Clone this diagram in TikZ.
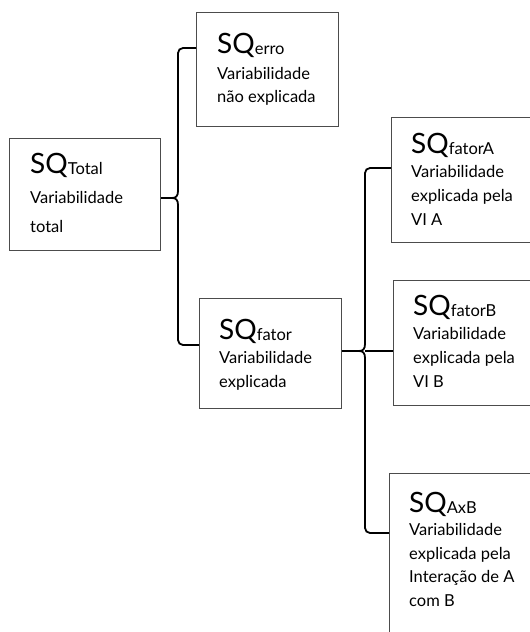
\documentclass[tikz,border=0pt]{standalone}
\usepackage{fontspec}
\setmainfont{Lato}
\newcommand\sqterm[1]{{\fontsize{28}{28}\selectfont SQ}\raisebox{-1.5pt}{#1}}
\begin{document}
\begin{tikzpicture}[x=1pt,y=-1pt,
  box/.style={draw=black!70,line width=1.1pt,rectangle,inner sep=0pt,anchor=north west},
  lbl/.style={anchor=base west,inner sep=0pt,font=\fontsize{16.5}{24}\selectfont},
  brace/.style={draw=black,line width=1.8pt}]
\useasboundingbox (0,0) rectangle (530,632);
\clip (0,0) rectangle (530,632);

% boxes
\node[box,minimum width=151pt,minimum height=112pt] (total) at (9,138) {};
\node[box,minimum width=142pt,minimum height=114pt] (erro) at (196,12) {};
\node[box,minimum width=142pt,minimum height=110pt] (fator) at (199,298) {};
\node[box,minimum width=180pt,minimum height=125pt] (fa) at (391,117) {};
\node[box,minimum width=180pt,minimum height=125pt] (fb) at (393,280) {};
\node[box,minimum width=180pt,minimum height=200pt] (axb) at (389,473) {};

% texts
\node[lbl] (totalt) at (30,173) {\parbox[t]{130pt}{\sqterm{Total}\\[6pt]Variabilidade\\[5pt]total}};
\node[lbl] (errot) at (217,53) {\parbox[t]{130pt}{\sqterm{erro}\\[2pt]Variabilidade\\[-1pt]não explicada}};
\node[lbl] (fatort) at (219,339) {\parbox[t]{130pt}{\sqterm{fator}\\Variabilidade\\explicada}};
\node[lbl] (fat) at (411,153) {\parbox[t]{130pt}{\sqterm{fatorA}\\Variabilidade\\explicada pela\\VI A}};
\node[lbl] (fbt) at (413,315) {\parbox[t]{130pt}{\sqterm{fatorB}\\Variabilidade\\explicada pela\\VI B}};
\node[lbl] (axbt) at (409,512) {\parbox[t]{130pt}{\sqterm{AxB}\\[-0.5pt]Variabilidade\\[-0.5pt]explicada pela\\[-0.5pt]Interação de A\\[-0.5pt]com B}};

% brace from the total sum of squares
\coordinate (b1top) at ([yshift=-36pt]erro.north west);
\coordinate (b1bot) at ([yshift=-47pt]fator.north west);
\coordinate (b1tip) at ([yshift=-60pt]total.north east);
\draw[brace] (b1top) -- (183,48) to[out=180,in=90] (178,53) -- (178,191)
  .. controls (178,196) and (176,198) .. (172,198) -- (b1tip);
\draw[brace] (172,198) .. controls (176,198) and (178,200) .. (178,205)
  -- (178,340) to[out=-90,in=180] (183,345) -- (b1bot);

% brace from the explained sum of squares
\coordinate (b2top) at ([yshift=-51pt]fa.north west);
\coordinate (b2bot) at ([yshift=-60pt]axb.north west);
\coordinate (b2tip) at ([yshift=-53pt]fator.north east);
\coordinate (b2mid) at ([yshift=-71pt]fb.north west);
\draw[brace] (b2top) -- (370,168) to[out=180,in=90] (365,173) -- (365,344)
  .. controls (365,349) and (363,351) .. (359,351) -- (b2tip);
\draw[brace] (359,351) .. controls (363,351) and (365,353) .. (365,358)
  -- (365,528) to[out=-90,in=180] (370,533) -- (b2bot);
\draw[draw=black,line width=1.6pt] (365,351) -- (b2mid);
\end{tikzpicture}
\end{document}
